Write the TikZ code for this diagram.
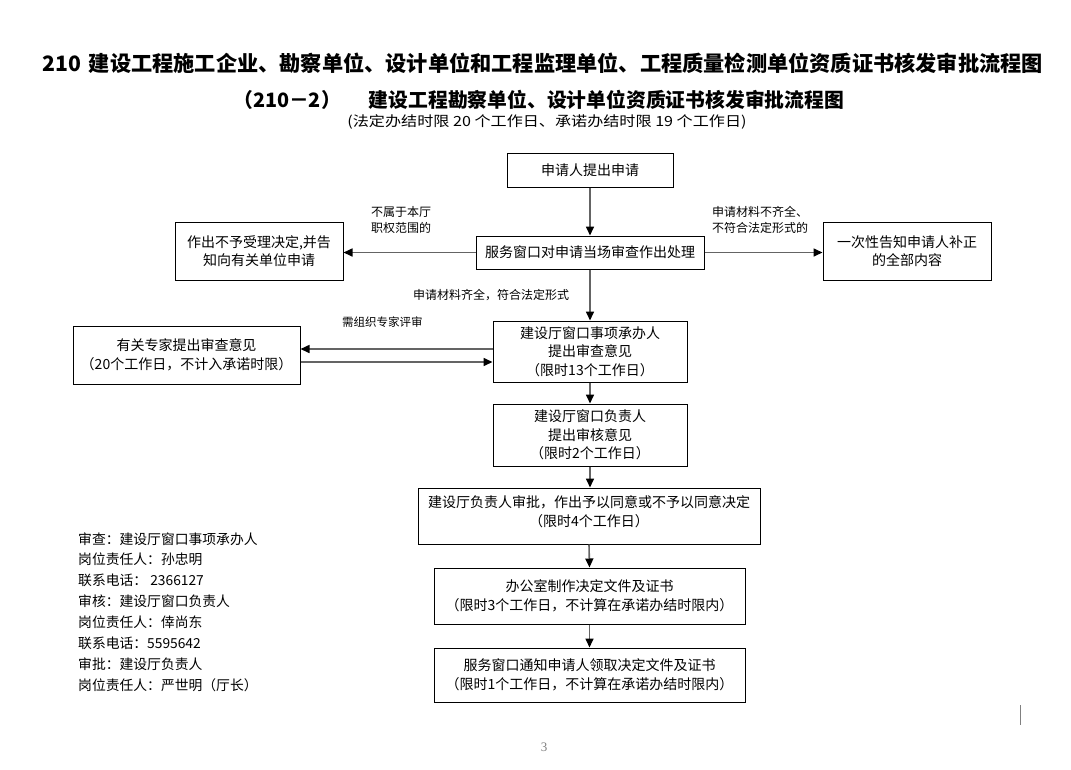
\documentclass[tikz,border=0pt]{standalone}
\usepackage{fontspec}
\setmainfont{Noto Sans CJK SC}
\newfontfamily\pagenumfont{Liberation Serif}
\usetikzlibrary{arrows.meta}
\definecolor{linegray}{RGB}{100,100,100}
\definecolor{markgray}{RGB}{128,128,128}
\tikzset{
  box/.style={draw=black, line width=1pt, align=center, inner sep=0pt,
    font=\fontsize{14}{18.5}\selectfont},
  arr/.style={draw=linegray, line width=1.6pt, -{Triangle[length=9pt,width=8pt,black]}},
  elabel/.style={align=left, inner sep=0pt, font=\fontsize{12}{16}\selectfont},
}
\begin{document}
\begin{tikzpicture}[x=1pt,y=1pt]
\useasboundingbox[fill=white] (0,0) rectangle (1071,-769);

% titles
\node[anchor=west, inner sep=0pt, font=\fontsize{21.2}{24}\selectfont\bfseries] (t1) at (42,-63)
  {210\hspace{8pt}建设工程施工企业、勘察单位、设计单位和工程监理单位、工程质量检测单位资质证书核发审批流程图};
\node[anchor=west, inner sep=0pt, font=\fontsize{19.8}{24}\selectfont\bfseries] (t2) at (233,-100)
  {（210－2）\hspace{28pt}建设工程勘察单位、设计单位资质证书核发审批流程图};
\node[inner sep=0pt, font=\fontsize{14}{16}\selectfont] (t3) at (547,-122)
  {\scalebox{1.15}[1]{(法定办结时限 20 个工作日、承诺办结时限 19 个工作日)}};

% boxes
\node[box, minimum width=166pt, minimum height=34pt] (b1) at (590,-170) {申请人提出申请};
\node[box, minimum width=228pt, minimum height=33pt] (b2) at (590,-252.5) {服务窗口对申请当场审查作出处理};
\node[box, minimum width=168pt, minimum height=58pt] (b3) at (259,-251) {作出不予受理决定,并告\\知向有关单位申请};
\node[box, minimum width=168pt, minimum height=58pt] (b4) at (907,-251) {一次性告知申请人补正\\的全部内容};
\node[box, minimum width=194pt, minimum height=61pt] (b5) at (590,-351.5) {建设厅窗口事项承办人\\提出审查意见\\（限时13个工作日）};
\node[box, minimum width=227pt, minimum height=58pt] (ex) at (186.5,-355) {有关专家提出审查意见\\（20个工作日，不计入承诺时限）};
\node[box, minimum width=194pt, minimum height=62pt] (b7) at (590,-435) {建设厅窗口负责人\\提出审核意见\\（限时2个工作日）};
\node[box, minimum width=342pt, minimum height=56pt] (b8) at (589,-516) {建设厅负责人审批，作出予以同意或不予以同意决定\\（限时4个工作日）\\[-9pt]\mbox{}};
\node[box, minimum width=311pt, minimum height=56pt] (b9) at (589.5,-596) {办公室制作决定文件及证书\\（限时3个工作日，不计算在承诺办结时限内）};
\node[box, minimum width=311pt, minimum height=54pt] (b10) at (589.5,-675) {服务窗口通知申请人领取决定文件及证书\\（限时1个工作日，不计算在承诺办结时限内）};

% connectors
\draw[arr] (b1.south) -- (b1.south |- b2.north);
\draw[arr] (b2.west) -- (b2.west -| b3.east);
\draw[arr] (b2.east) -- (b2.east -| b4.west);
\draw[arr] (b2.south) -- (b5.north);
\draw[arr] ([yshift=2.5pt]b5.west) -- ([yshift=6pt]ex.east);
\draw[arr] ([yshift=-7pt]ex.east) -- ([yshift=-10.5pt]b5.west);
\draw[arr] (b5.south) -- (b7.north);
\draw[arr] (b7.south) -- (b7.south |- b8.north);
\draw[arr] (b8.south) -- (b9.north);
\draw[arr] (b9.south) -- (b10.north);

% connector labels
\node[elabel, anchor=west] (l1) at (371,-220) {不属于本厅\\职权范围的};
\node[elabel, anchor=west] (l2) at (712,-220) {申请材料不齐全、\\不符合法定形式的};
\node[elabel, anchor=west] (l3) at (413,-295) {申请材料齐全，符合法定形式};
\node[elabel, anchor=west, font=\fontsize{11.5}{14}\selectfont] (l4) at (342,-322) {需组织专家评审};

% responsible persons
\node[align=left, inner sep=0pt, anchor=west, font=\fontsize{13.8}{20.9}\selectfont] (info) at (78,-612)
  {审查：建设厅窗口事项承办人\\
   岗位责任人：孙忠明\\
   联系电话： 2366127\\
   审核：建设厅窗口负责人\\
   岗位责任人：倖尚东\\
   联系电话：5595642\\
   审批：建设厅负责人\\
   岗位责任人：严世明（厅长）};

% page number and corner mark
\node[inner sep=0pt, text=markgray, font=\pagenumfont\fontsize{13}{15}\selectfont] (pg) at (544,-747) {3};
\draw[markgray, line width=1pt] (1020,-705) -- (1020,-725);
\end{tikzpicture}
\end{document}
